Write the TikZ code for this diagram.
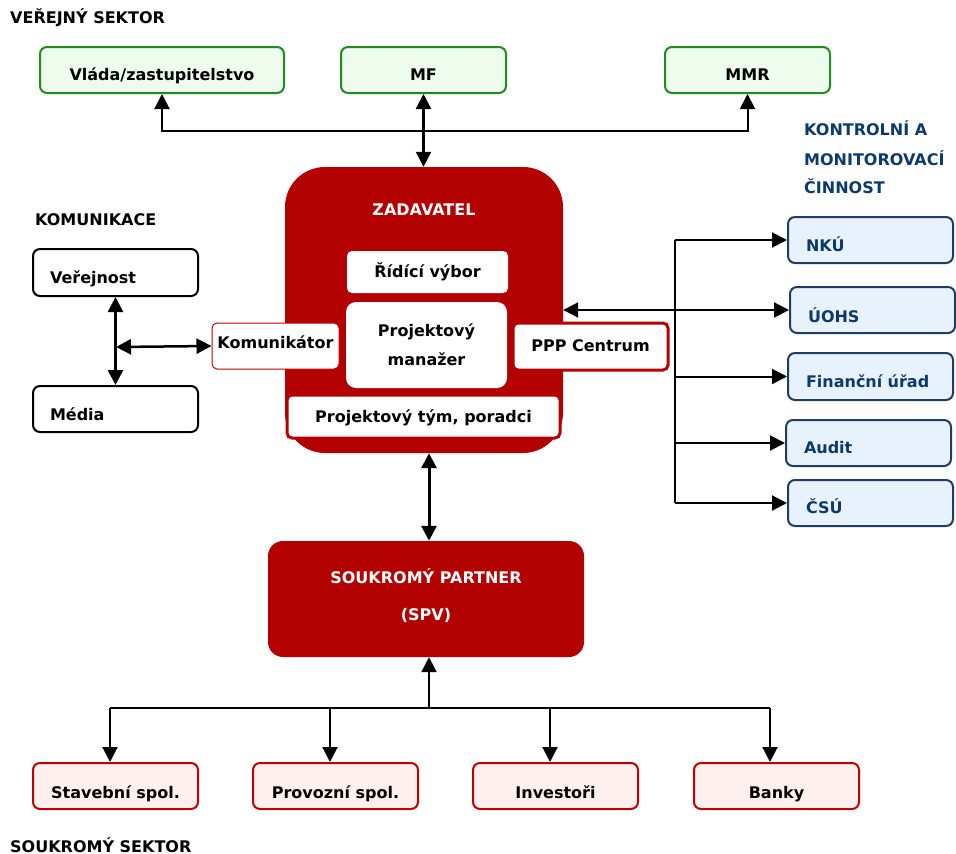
\documentclass[tikz,border=0pt]{standalone}
\usepackage{fontspec}
\setmainfont{DejaVu Sans}
\usetikzlibrary{arrows.meta}
\definecolor{gborder}{HTML}{1E8C1E}
\definecolor{gfill}{HTML}{EEFCEE}
\definecolor{zred}{HTML}{B30000}
\definecolor{pborder}{HTML}{C00000}
\definecolor{pfill}{HTML}{FFF0F0}
\definecolor{bborder}{HTML}{1F3D63}
\definecolor{bfill}{HTML}{E8F2FC}
\definecolor{btext}{HTML}{0B3A6B}
\begin{document}
\begin{tikzpicture}[x=1pt,y=-1pt,
  font=\bfseries\fontsize{16}{19}\selectfont,
  >={Triangle[width=15pt,length=15pt]},
  dy/.style={text depth=3pt,text height=#1},
  gbox/.style={draw=gborder,fill=gfill,line width=2pt,rounded corners=7pt,minimum height=46pt,inner sep=0pt,dy=24.66pt},
  wbox/.style={fill=white,rounded corners=5pt,inner sep=0pt},
  kbox/.style={draw=black,fill=white,line width=2pt,rounded corners=7pt,minimum height=46pt,inner xsep=17pt,inner ysep=0pt,text width=131pt,align=left},
  bbox/.style={draw=bborder,fill=bfill,text=btext,line width=2pt,rounded corners=7pt,minimum height=46pt,inner xsep=18pt,inner ysep=0pt,text width=129pt,align=left},
  pbox/.style={draw=pborder,fill=pfill,line width=2pt,rounded corners=7pt,minimum width=165pt,minimum height=46pt,inner sep=0pt,dy=28.66pt},
  heading/.style={anchor=base west,inner sep=0pt},
  conn/.style={line width=2pt}
]
\useasboundingbox (0,0) rectangle (956,854);

% headings
\node[heading] (hv) at (10,23.3) {VEŘEJNÝ SEKTOR};
\node[heading] (hk) at (35,225) {KOMUNIKACE};
\node[heading] (hs) at (10,852) {SOUKROMÝ SEKTOR};
\node[heading,text=btext] (kc1) at (804,135) {KONTROLNÍ A};
\node[heading,text=btext] (kc2) at (804,165) {MONITOROVACÍ};
\node[heading,text=btext] (kc3) at (804,193) {ČINNOST};

% public sector
\node[gbox,minimum width=244pt] (vlada) at (162,70) {Vláda/zastupitelstvo};
\node[gbox,minimum width=165pt] (mf) at (423.5,70) {MF};
\node[gbox,minimum width=165pt] (mmr) at (747.5,70) {MMR};

% zadavatel
\node[fill=zred,rounded corners=40pt,minimum width=278pt,minimum height=286pt,inner sep=0pt] (zad) at (424,310) {};
\node[text=white] (zadt) at (424,210) {ZADAVATEL};
\node[wbox,minimum width=161pt,minimum height=42pt,dy=14.66pt] (rid) at (427.5,272) {Řídící výbor};
\node[wbox,rounded corners=10pt,minimum width=161pt,minimum height=86pt,align=center,font=\bfseries\fontsize{16}{29}\selectfont] (pm) at (426.5,345) {Projektový\\manažer};
\node[wbox,draw=pborder,line width=1pt,minimum width=127pt,minimum height=46pt,dy=8.66pt] (kom) at (275.5,346) {Komunikátor};
\node[wbox,draw=zred,line width=3pt,minimum width=155pt,minimum height=47pt,dy=12.66pt] (ppp) at (590.5,346.5) {PPP Centrum};
\node[wbox,draw=zred,line width=3pt,minimum width=273pt,minimum height=43pt,dy=14.66pt] (tym) at (423.5,416.5) {Projektový tým, poradci};

% private partner
\node[fill=zred,rounded corners=15pt,minimum width=316pt,minimum height=116pt,inner sep=0pt,text=white,align=center,font=\bfseries\fontsize{16}{37}\selectfont] (spv) at (426,599) {SOUKROMÝ PARTNER\\(SPV)\rule[-9pt]{0pt}{9pt}};

% communication
\node[kbox,minimum height=47pt,dy=25.66pt] (ver) at (115.5,272.5) {Veřejnost};
\node[kbox,dy=26.66pt] (med) at (115.5,409) {Média};

% control
\node[bbox,dy=26.66pt] (nku) at (870.5,240) {NKÚ};
\node[bbox,dy=28.66pt] (uohs) at (872.5,310) {ÚOHS};
\node[bbox,minimum height=47pt,dy=25.66pt] (fin) at (870.5,376.5) {Finanční úřad};
\node[bbox,dy=24.66pt] (aud) at (868.5,443) {Audit};
\node[bbox,dy=24.66pt] (csu) at (870.5,503) {ČSÚ};

% private sector
\node[pbox] (stav) at (115.5,786) {Stavební spol.};
\node[pbox] (prov) at (335.5,786) {Provozní spol.};
\node[pbox] (inv) at (555.5,786) {Investoři};
\node[pbox] (bank) at (776.5,786) {Banky};

% connectors top
\coordinate (tj) at (424,131);
\draw[conn,<->] (vlada.south) |- (tj) -| (mmr.south);
\draw[line width=2.5pt,<->] (mf.south) -- (mf.south |- zad.north);

% zadavatel - spv
\draw[line width=3pt,<->] ([xshift=5pt]zad.south) -- ([xshift=5pt]zad.south |- spv.north);

% bottom bus
\coordinate (bus) at (429,708);
\coordinate (b1) at (110,708);
\coordinate (b2) at (330,708);
\coordinate (b3) at (550,708);
\coordinate (b4) at (770,708);
\draw[line width=2.5pt,->] (bus) -- (bus |- spv.south);
\draw[conn] (b1) -- (b4);
\draw[conn,->] (b1) -- (b1 |- stav.north);
\draw[conn,->] (b2) -- (b2 |- prov.north);
\draw[conn,->] (b3) -- (b3 |- inv.north);
\draw[conn,->] (b4) -- (b4 |- bank.north);

% communication connectors
\coordinate (kj) at (116,347);
\draw[line width=2.5pt,<->] (ver.south) -- (med.north);
\draw[line width=2.5pt,<->] (kj) -- (kom.west);

% control connectors
\coordinate (t1) at (675,240);
\coordinate (t5) at (675,503);
\draw[conn] (t1) -- (t5);
\draw[conn,->] (t1) -- (nku.west);
\draw[conn,<->] (zad.east |- uohs.west) -- (uohs.west);
\draw[conn,->] (t1 |- fin.west) -- (fin.west);
\draw[conn,->] (t1 |- aud.west) -- (aud.west);
\draw[conn,->] (t5) -- (csu.west);
\end{tikzpicture}
\end{document}
